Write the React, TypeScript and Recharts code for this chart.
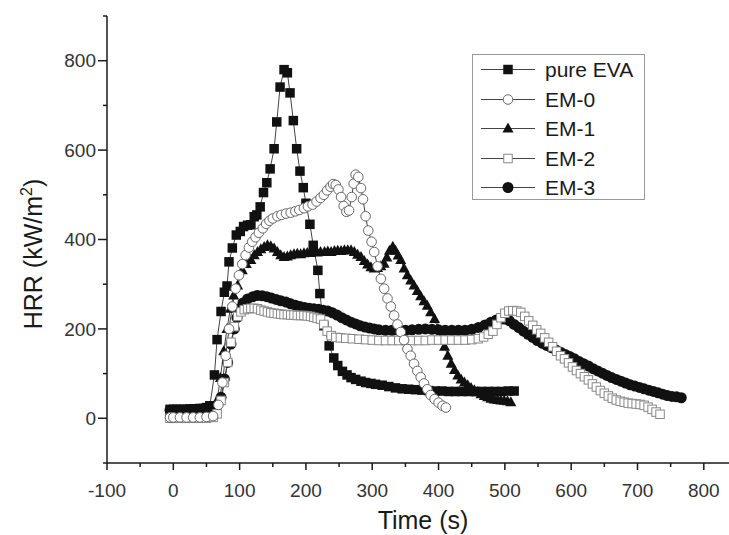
import React from 'react';
import { Label, Legend, Line, LineChart, XAxis, YAxis } from 'recharts';

// HRR curves (time in s, HRR in kW/m2)
const pureEvaTime = [-5, 0, 5, 10, 15, 20, 25, 30, 35, 40, 45, 50, 55, 62, 66, 72, 77, 81, 84, 89, 95, 101, 106, 112, 117, 122, 126, 131, 136, 141, 146, 152, 156, 161, 167, 172, 176, 181, 186, 191, 196, 200, 206, 211, 218, 221, 227, 235, 242, 248, 255, 262, 268, 275, 283, 290, 298, 305, 315, 325, 335, 345, 355, 365, 375, 385, 395, 405, 415, 425, 435, 445, 455, 465, 475, 485, 495, 505, 514];
const pureEvaHrr = [20, 20, 20, 20, 20, 20, 21, 21, 21, 22, 22, 24, 28, 97, 176, 239, 282, 296, 350, 381, 410, 418, 429, 432, 433, 451, 455, 473, 505, 527, 558, 603, 663, 741, 780, 773, 728, 666, 603, 553, 516, 481, 434, 387, 331, 279, 207, 162, 135, 118, 105, 97, 91, 87, 83, 80, 78, 76, 74, 71, 68, 66, 65, 64, 63, 62, 61, 61, 60, 60, 60, 60, 60, 60, 60, 60, 60, 61, 61];

const em0Time = [-5, 0, 10, 20, 30, 40, 50, 60, 68, 74, 79, 84, 89, 94, 99, 104, 109, 114, 119, 124, 129, 135, 140, 145, 150, 157, 163, 170, 177, 184, 190, 197, 203, 210, 216, 222, 227, 232, 237, 241, 245, 249, 253, 257, 261, 265, 269, 272, 275, 279, 283, 286, 290, 294, 299, 303, 308, 313, 318, 323, 328, 333, 338, 343, 348, 353, 358, 363, 368, 373, 378, 383, 388, 394, 400, 406, 411];
const em0Hrr = [2, 2, 2, 2, 2, 2, 3, 5, 30, 80, 140, 200, 250, 290, 320, 345, 365, 382, 395, 405, 415, 425, 435, 442, 447, 452, 455, 458, 460, 463, 466, 470, 474, 478, 485, 493, 500, 510, 518, 524, 522, 512, 495, 475, 462, 465, 495, 525, 545, 540, 515, 490, 452, 420, 395, 372, 340, 312, 290, 268, 250, 230, 210, 193, 175, 155, 140, 122, 106, 92, 78, 65, 52, 43, 35, 28, 24];

const em1Time = [-5, 0, 10, 20, 30, 40, 50, 60, 66, 71, 76, 81, 86, 91, 97, 104, 110, 117, 122, 127, 132, 137, 142, 147, 152, 157, 162, 167, 172, 177, 182, 187, 192, 197, 202, 207, 212, 217, 222, 228, 233, 238, 243, 248, 253, 258, 263, 268, 273, 278, 283, 288, 293, 298, 303, 308, 313, 318, 322, 326, 331, 335, 339, 343, 348, 353, 358, 363, 368, 373, 378, 383, 388, 394, 399, 404, 409, 414, 419, 424, 429, 434, 439, 444, 449, 454, 459, 464, 469, 474, 479, 484, 489, 494, 499, 504, 509];
const em1Hrr = [15, 15, 15, 15, 15, 15, 16, 18, 40, 90, 150, 200, 245, 275, 297, 331, 345, 354, 365, 372, 378, 383, 387, 385, 380, 372, 365, 361, 362, 365, 367, 368, 367, 369, 370, 370, 372, 371, 372, 372, 373, 372, 374, 375, 374, 376, 376, 376, 372, 366, 361, 352, 344, 338, 335, 336, 340, 346, 360, 375, 384, 375, 364, 354, 335, 320, 308, 297, 285, 273, 262, 252, 237, 222, 200, 180, 160, 140, 122, 108, 96, 87, 80, 74, 68, 63, 58, 54, 50, 47, 44, 42, 41, 40, 39, 38, 36];

const em2Time = [-5, 0, 10, 20, 30, 40, 50, 60, 66, 72, 77, 82, 87, 92, 97, 102, 107, 112, 117, 122, 127, 132, 137, 142, 147, 152, 157, 162, 167, 172, 177, 182, 187, 192, 197, 202, 207, 212, 217, 222, 227, 232, 238, 245, 252, 260, 270, 280, 290, 300, 310, 320, 330, 340, 350, 360, 370, 380, 390, 400, 410, 420, 430, 440, 450, 460, 468, 475, 482, 488, 494, 500, 506, 512, 518, 524, 530, 536, 542, 548, 554, 560, 566, 572, 578, 584, 590, 596, 602, 608, 614, 620, 626, 632, 638, 644, 650, 656, 662, 668, 674, 680, 686, 692, 698, 704, 710, 716, 722, 728, 734];
const em2Hrr = [0, 0, 0, 0, 0, 0, 0, 2, 10, 40, 80, 125, 170, 205, 228, 238, 243, 245, 246, 246, 245, 242, 240, 238, 236, 235, 234, 233, 232, 232, 231, 231, 230, 230, 230, 229, 228, 226, 224, 222, 210, 195, 185, 181, 180, 179, 178, 177, 176, 175, 174, 174, 174, 174, 174, 174, 174, 174, 175, 175, 175, 175, 175, 175, 176, 178, 182, 188, 195, 210, 225, 235, 240, 241, 240, 237, 228, 218, 208, 198, 190, 180, 170, 160, 150, 140, 133, 124, 115, 107, 100, 93, 86, 77, 70, 62, 56, 50, 45, 41, 38, 36, 34, 33, 32, 31, 29, 25, 20, 14, 9];

const em3Time = [-5, 0, 10, 20, 30, 40, 50, 60, 66, 72, 77, 82, 87, 92, 96, 100, 105, 112, 120, 127, 134, 141, 148, 155, 162, 170, 177, 184, 191, 198, 205, 212, 219, 226, 233, 240, 247, 254, 261, 268, 275, 282, 289, 296, 303, 310, 320, 330, 340, 350, 360, 370, 380, 390, 400, 410, 420, 430, 440, 450, 460, 470, 479, 487, 494, 500, 507, 514, 521, 528, 535, 542, 549, 556, 563, 570, 577, 584, 591, 598, 605, 612, 619, 626, 633, 640, 647, 654, 661, 668, 675, 682, 689, 696, 703, 710, 717, 724, 731, 738, 745, 752, 759, 766];
const em3Hrr = [18, 18, 18, 18, 18, 19, 20, 22, 28, 47, 88, 125, 166, 200, 225, 245, 258, 267, 272, 275, 274, 272, 269, 266, 263, 260, 256, 253, 250, 248, 246, 245, 244, 242, 240, 236, 231, 225, 220, 215, 211, 207, 204, 202, 200, 198, 197, 197, 197, 197, 198, 199, 200, 199, 198, 197, 197, 197, 197, 199, 203, 209, 215, 220, 222, 222, 218, 210, 203, 195, 188, 181, 174, 168, 163, 158, 153, 148, 143, 138, 133, 127, 122, 117, 111, 106, 101, 96, 91, 87, 83, 79, 75, 72, 69, 66, 63, 60, 57, 54, 51, 49, 48, 46];

const xTicks = [-100, -50, 0, 50, 100, 150, 200, 250, 300, 350, 400, 450, 500, 550, 600, 650, 700, 750, 800];
const yTicks = [-100, 0, 100, 200, 300, 400, 500, 600, 700, 800, 900];

type MarkerKind = 'square' | 'circleOpen' | 'triangle' | 'squareOpen' | 'circle';

const zip = (t: number[], v: number[]) => t.map((time, i) => ({ t: time, v: v[i] }));

const series = [
  { name: 'pure EVA', kind: 'square' as MarkerKind, data: zip(pureEvaTime, pureEvaHrr) },
  { name: 'EM-0', kind: 'circleOpen' as MarkerKind, data: zip(em0Time, em0Hrr) },
  { name: 'EM-1', kind: 'triangle' as MarkerKind, data: zip(em1Time, em1Hrr) },
  { name: 'EM-2', kind: 'squareOpen' as MarkerKind, data: zip(em2Time, em2Hrr) },
  { name: 'EM-3', kind: 'circle' as MarkerKind, data: zip(em3Time, em3Hrr) },
];
// draw order: filled markers below, open ones on top
const drawOrder = ['pure EVA', 'EM-1', 'EM-3', 'EM-2', 'EM-0'];

const FONT = '"Liberation Sans", Arial, sans-serif';
const INK = '#1a1a1a';

function Marker({ kind, cx, cy }: { kind: MarkerKind; cx: number; cy: number }) {
  if (cx == null || cy == null) return null;
  switch (kind) {
    case 'square':
      return <rect x={cx - 4.75} y={cy - 4.75} width={9.5} height={9.5} fill="#111" />;
    case 'circleOpen':
      return <circle cx={cx} cy={cy} r={4.8} fill="#fff" stroke="#666" strokeWidth={1} />;
    case 'triangle':
      return <polygon points={`${cx},${cy - 6} ${cx - 5.5},${cy + 4} ${cx + 5.5},${cy + 4}`} fill="#111" />;
    case 'squareOpen':
      return <rect x={cx - 4.25} y={cy - 4.25} width={8.5} height={8.5} fill="#fff" stroke="#888" strokeWidth={1} />;
    default:
      return <circle cx={cx} cy={cy} r={5.5} fill="#111" />;
  }
}

const XTick = (props: any) => {
  const { x, y, payload } = props;
  const major = payload.value % 100 === 0;
  return (
    <g>
      <line x1={x} x2={x} y1={y} y2={y + (major ? 7 : 4)} stroke={INK} strokeWidth={1.5} />
      {major && (
        <text x={x} y={y + 34} textAnchor="middle" fontSize={19} fontFamily={FONT} fill="#333">
          {payload.value}
        </text>
      )}
    </g>
  );
};

const YTick = (props: any) => {
  const { x, y, payload } = props;
  const major = payload.value % 200 === 0;
  return (
    <g>
      <line x1={x - (major ? 9 : 4)} x2={x} y1={y} y2={y} stroke={INK} strokeWidth={1.5} />
      {major && (
        <text x={x - 11} y={y} dy="0.35em" textAnchor="end" fontSize={19} fontFamily={FONT} fill="#333">
          {payload.value}
        </text>
      )}
    </g>
  );
};

const LegendBox = () => (
  <div
    style={{
      width: 173,
      height: 146,
      border: '1px solid #999',
      boxSizing: 'border-box',
      background: '#fff',
      fontFamily: FONT,
      fontSize: 21,
      color: INK,
    }}
  >
    {series.map((s) => (
      <div key={s.name} style={{ height: 29.5, display: 'flex', alignItems: 'center' }}>
        <svg width={72} height={29} style={{ flex: 'none' }}>
          <line x1={8} x2={62} y1={14.5} y2={14.5} stroke="#444" strokeWidth={1} />
          <Marker kind={s.kind} cx={35} cy={14.5} />
        </svg>
        <span style={{ lineHeight: '29px' }}>{s.name}</span>
      </div>
    ))}
  </div>
);

export default function App() {
  const ordered = drawOrder.map((n) => series.find((s) => s.name === n)!);
  return (
    <div style={{ position: 'absolute', left: 0, top: 0, background: '#fff' }}>
      <LineChart width={729} height={535} margin={{ top: 16, right: 0, bottom: 0, left: 0 }}>
        <XAxis
          type="number"
          dataKey="t"
          domain={[-100, 838]}
          ticks={xTicks}
          interval={0}
          tick={<XTick />}
          tickLine={false}
          tickSize={0}
          tickMargin={0}
          height={72}
          allowDataOverflow
          axisLine={{ stroke: INK, strokeWidth: 1.5 }}
        >
          <Label
            content={() => (
              <text x={423} y={529} textAnchor="middle" fontSize={25} fontFamily={FONT} fill={INK}>
                Time (s)
              </text>
            )}
          />
        </XAxis>
        <YAxis
          type="number"
          dataKey="v"
          domain={[-100, 900]}
          ticks={yTicks}
          interval={0}
          tick={<YTick />}
          tickLine={false}
          tickSize={0}
          tickMargin={0}
          width={107}
          allowDataOverflow
          axisLine={{ stroke: INK, strokeWidth: 1.5 }}
        >
          <Label
            content={() => (
              <text transform="translate(42,254) rotate(-90)" textAnchor="middle" fontSize={25} fontFamily={FONT} fill={INK}>
                HRR (kW/m<tspan dy={-10} fontSize={16}>2</tspan>
                <tspan dy={10}>)</tspan>
              </text>
            )}
          />
        </YAxis>
        <Legend
          layout="horizontal"
          verticalAlign="middle"
          align="center"
          wrapperStyle={{ left: 472, top: 54, width: 173 }}
          content={() => <LegendBox />}
        />
        {ordered.map((s) => (
          <Line
            key={s.name}
            name={s.name}
            data={s.data}
            dataKey="v"
            type="linear"
            stroke="#444"
            strokeWidth={1}
            isAnimationActive={false}
            dot={(p: any) => <Marker key={`${s.name}-${p.index}`} kind={s.kind} cx={p.cx} cy={p.cy} />}
            activeDot={false}
          />
        ))}
      </LineChart>
    </div>
  );
}
